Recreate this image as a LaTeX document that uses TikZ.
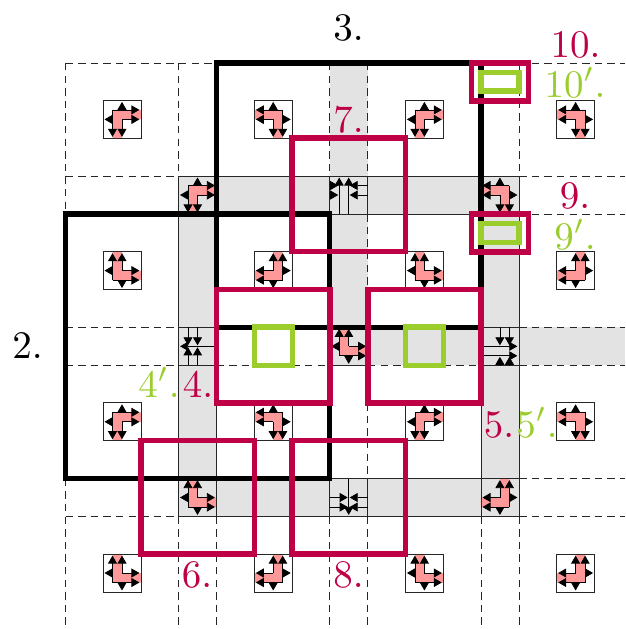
\documentclass[tikz,border=0pt]{standalone}
\usetikzlibrary{arrows.meta}
\definecolor{crim}{RGB}{190,0,70}
\definecolor{lime}{RGB}{155,205,45}
\definecolor{band}{RGB}{227,227,227}
\definecolor{rose}{RGB}{255,153,153}
\tikzset{
  x=1pt,y=-1pt,
  griddash/.style={line width=.8pt,dash pattern=on 7.4pt off 5.2pt,black!85},
  thin edge/.style={line width=.8pt,black!85},
  heavy/.style={line width=5.2pt,black,line join=miter},
  redbox/.style={line width=5.6pt,crim,line join=miter},
  greenbox/.style={line width=5.6pt,lime,line join=miter},
  ar/.style={line width=.8pt,black,-{Triangle[length=8pt,width=9pt]}},
  lab/.style={anchor=base,inner sep=0pt,scale=3.9},
  pics/cornertile/.style={code={
    \fill[rose] (-9.5,-9.5) -- (19,-9.5) -- (19,0) -- (0,0) -- (0,19) -- (-9.5,19) -- cycle;
    \draw[thin edge] (-19,-19) rectangle (19,19);
    \draw[ar] (-9.5,-9.5) -- (17.4,-9.5);
    \draw[ar] (0,0) -- (17.4,0);
    \draw[ar] (-9.5,-9.5) -- (-9.5,17.4);
    \draw[ar] (0,0) -- (0,17.4);
    \draw[ar] (0,-9.5) -- (0,-17.5);
    \draw[ar] (-9.5,0) -- (-17.5,0);
  }},
  pics/boxonly/.style={code={\draw[thin edge] (-19,-19) rectangle (19,19);}}
}
\begin{document}
\begin{tikzpicture}
\useasboundingbox (0,0) rectangle (625,629);
% grey bands
\fill[band] (178.5,176) rectangle (518.9,214);
\fill[band] (178.5,478.5) rectangle (518.9,516.6);
\fill[band] (178.5,176) rectangle (216.5,516.6);
\fill[band] (480.9,176) rectangle (518.9,516.6);
\fill[band] (329.7,62.9) rectangle (367.7,365.4);
\fill[band] (329.7,327.2) rectangle (625,365.4);
% dashed grid
\foreach \gx in {65.5,178.5,216.5,329.7,367.7,480.9,518.9}
  \draw[griddash] (\gx,62.9) -- (\gx,629);
\foreach \gy in {62.9,176,214,327.2,365.4,478.5,516.6}
  \draw[griddash] (65.5,\gy) -- (625,\gy);
% ring edges
\draw[thin edge] (178.5,176) rectangle (518.9,516.6);
\draw[thin edge] (216.5,214) rectangle (480.9,478.5);
% corner tiles
\foreach \cx/\sx in {122/1,273.2/-1,424.4/1,575.6/-1}{
  \foreach \cy/\sy in {119.4/1,270.6/-1,421.8/1,573/-1}{
    \pic[xscale=\sx,yscale=\sy] at (\cx,\cy) {cornertile};
  }
}
\pic at (197.5,195) {cornertile};
\pic[xscale=-1] at (499.9,195) {cornertile};
\pic[yscale=-1] at (197.5,497.5) {cornertile};
\pic[xscale=-1,yscale=-1] at (499.9,497.5) {cornertile};
\pic[yscale=-1] at (348.7,346.3) {cornertile};
% straight tile top
\begin{scope}[shift={(348.7,195)}]
  \pic at (0,0) {boxonly};
  \draw[ar] (-9.5,19) -- (-9.5,-17.4);
  \draw[ar] (0,19) -- (0,-17.4);
  \draw[ar] (-19,-9.5) -- (-10.5,-9.5);
  \draw[ar] (-19,0) -- (-10.5,0);
  \draw[ar] (19,-9.5) -- (1,-9.5);
  \draw[ar] (19,0) -- (1,0);
\end{scope}
% straight tile bottom
\begin{scope}[shift={(348.7,497.5)}]
  \pic at (0,0) {boxonly};
  \draw[ar] (0,-19) -- (0,17.4);
  \draw[ar] (-19,0) -- (-1,0);
  \draw[ar] (-19,9.5) -- (-1,9.5);
  \draw[ar] (19,0) -- (1,0);
  \draw[ar] (19,9.5) -- (1,9.5);
\end{scope}
% straight tile left
\begin{scope}[shift={(197.5,346.3)}]
  \pic at (0,0) {boxonly};
  \draw[ar] (19,0) -- (-17.4,0);
  \draw[ar] (-9.5,-19) -- (-9.5,-1);
  \draw[ar] (0,-19) -- (0,-1);
  \draw[ar] (-9.5,19) -- (-9.5,1);
  \draw[ar] (0,19) -- (0,1);
\end{scope}
% straight tile right
\begin{scope}[shift={(499.9,346.3)}]
  \pic at (0,0) {boxonly};
  \draw[ar] (-19,0) -- (17.4,0);
  \draw[ar] (-19,9.5) -- (17.4,9.5);
  \draw[ar] (0,-19) -- (0,-1);
  \draw[ar] (9.5,-19) -- (9.5,-1);
  \draw[ar] (0,19) -- (0,10.5);
  \draw[ar] (9.5,19) -- (9.5,10.5);
\end{scope}
% black frames
\draw[heavy] (65.5,214) rectangle (329.7,478.5);
\draw[heavy] (216.5,62.9) rectangle (480.9,327.2);
% red frames
\draw[redbox] (216.5,289.4) rectangle (330,402.8);
\draw[redbox] (367.7,289.4) rectangle (481,402.8);
\draw[redbox] (141,440.6) rectangle (254.4,554);
\draw[redbox] (292.2,440.6) rectangle (405.6,554);
\draw[redbox] (292.2,138.2) rectangle (405.6,251.4);
\draw[redbox] (471.6,214) rectangle (528.4,252);
\draw[redbox] (471.6,63) rectangle (528.4,101);
% green frames
\draw[greenbox] (254.4,327.2) rectangle (292.4,365.4);
\draw[greenbox] (405.6,327.2) rectangle (443.6,365.4);
\draw[greenbox] (481,223.5) rectangle (519,242.5);
\draw[greenbox] (481,72.5) rectangle (519,91);
% labels
\node[lab] (l3) at (348.5,40) {$3.$};
\node[lab] (l2) at (27.5,358) {$2.$};
\node[lab,text=crim] (l10) at (575.5,57) {$10.$};
\node[lab,text=lime] (l10p) at (575,97) {$10'.$};
\node[lab,text=crim] (l9) at (575,208) {$9.$};
\node[lab,text=lime] (l9p) at (575,249) {$9'.$};
\node[lab,text=crim] (l7) at (348.5,132) {$7.$};
\node[lab,text=crim] (l5) at (499,437) {$5.$};
\node[lab,text=lime] (l5p) at (537,437) {$5'.$};
\node[lab,text=crim] (l6) at (197,587) {$6.$};
\node[lab,text=crim] (l8) at (348.5,587) {$8.$};
\node[lab,text=crim] (l4) at (198,397) {$4.$};
\node[lab,text=lime] (l4p) at (159,397) {$4'.$};
\end{tikzpicture}
\end{document}
